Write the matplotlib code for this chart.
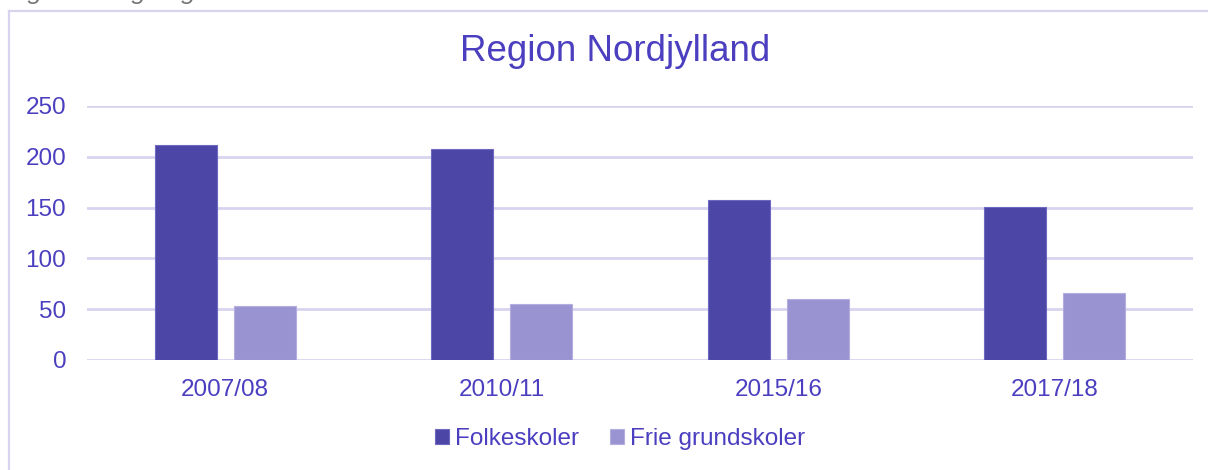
import matplotlib.pyplot as plt
import numpy as np
from matplotlib.lines import Line2D

plt.rcParams['font.family'] = ['Liberation Sans', 'DejaVu Sans']

# Data
years = ['2007/08', '2010/11', '2015/16', '2017/18']
folkeskoler = [212, 208, 157, 151]
frie_grundskoler = [53, 55, 60, 66]
yticks = [0, 50, 100, 150, 200, 250]

text_col = '#4B3FC0'
grid_col = '#D8D4F0'
dark = '#4C46A6'
light = '#9994D1'

fig = plt.figure(figsize=(12.08, 4.70), dpi=100)
W, H = 1208, 470

# outer frame (left and top edges only visible)
fig.add_artist(Line2D([9 / W, 9 / W], [0, 1 - 11 / H], transform=fig.transFigure,
                      color=grid_col, lw=1.6))
fig.add_artist(Line2D([9 / W, 1], [1 - 11 / H, 1 - 11 / H], transform=fig.transFigure,
                      color=grid_col, lw=1.6))

# source note, cut off at the top edge as in the original
fig.text(10 / W, 1 + 1 / H, 'Egne beregninger.', fontsize=19, color='#777777',
         ha='left', va='baseline', style='italic')

ax = fig.add_axes([87 / W, 110 / H, (1193 - 87) / W, (360 - 106) / H])

x = np.arange(len(years))
w = 0.224
off = 0.143
ax.bar(x - off, folkeskoler, w, color=dark, edgecolor='#6E68C0', lw=0.8,
       label='Folkeskoler', zorder=3)
ax.bar(x + off, frie_grundskoler, w, color=light, edgecolor='#B3AEDF', lw=0.8,
       label='Frie grundskoler', zorder=3)

ax.set_xlim(-0.5, len(years) - 0.5)
ax.set_ylim(0, 250)
ax.set_yticks(yticks)
ax.set_xticks(x)
ax.set_xticklabels(years)
ax.tick_params(axis='both', length=0, labelsize=17.5, labelcolor=text_col)
ax.tick_params(axis='y', pad=15)
ax.tick_params(axis='x', pad=14)

ax.yaxis.grid(True, color=grid_col, lw=2, zorder=0)
ax.set_axisbelow(True)
for s in ax.spines.values():
    s.set_visible(False)

fig.text(615 / W, 1 - 52 / H, 'Region Nordjylland', fontsize=26.5, color=text_col,
         ha='center', va='center')

leg = fig.legend(loc='center', bbox_to_anchor=(620 / W, 1 - 439 / H), ncol=2,
                 frameon=False, fontsize=17.5, handlelength=0.55, handleheight=0.55,
                 handletextpad=0.25, columnspacing=1.3)
for t in leg.get_texts():
    t.set_color(text_col)

fig.savefig('out.png', dpi=100)
